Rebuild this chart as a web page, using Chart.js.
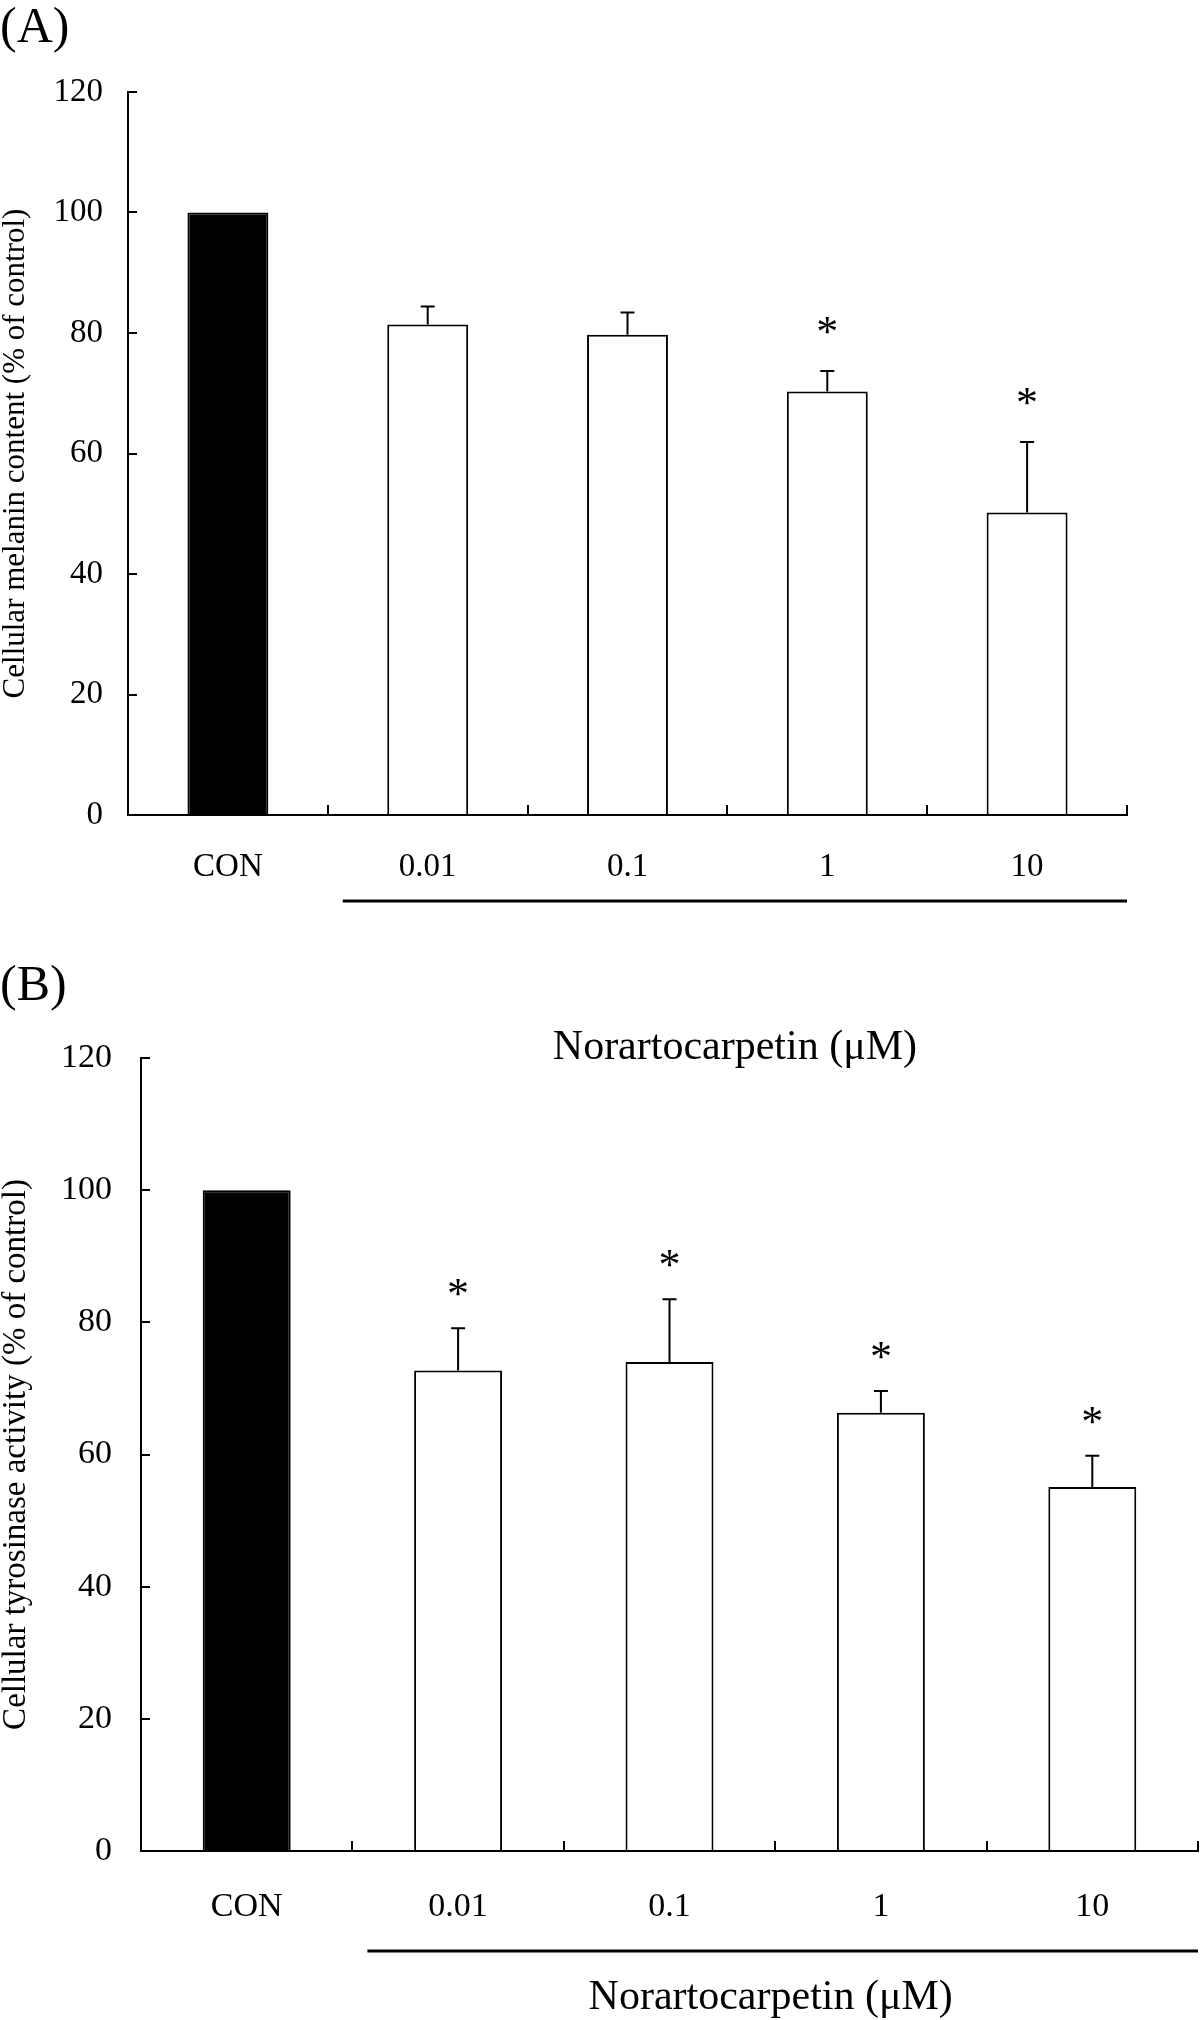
<!DOCTYPE html>
<html>
<head>
<meta charset="utf-8">
<script src="https://cdn.jsdelivr.net/npm/chart.js@4.4.1/dist/chart.umd.min.js"></script>
<style>
  html, body { margin: 0; padding: 0; background: #fff; }
  body { width: 1200px; height: 2020px; position: relative; overflow: hidden; font-family: "Liberation Serif", "Times New Roman", serif; }
  canvas { position: absolute; left: 0; }
  #chartA { top: 0; }
  #chartB { top: 960px; }
  .panel-tag { position: absolute; left: 0; font-size: 50px; line-height: 50px; color: #000; }
</style>
</head>
<body>
<div class="panel-tag" style="top:0">(A)</div>
<canvas id="chartA" width="1200" height="1080"></canvas>
<canvas id="chartB" width="1200" height="1060"></canvas>
<div class="panel-tag" style="top:958px">(B)</div>
<script>
const categories = ['CON', '0.01', '0.1', '1', '10'];
const yTickValues = [0, 20, 40, 60, 80, 100, 120];
const groupLabel = 'Norartocarpetin (μM)';

// (A) cellular melanin content, % of control
const melaninMean = [100, 81.4, 79.7, 70.3, 50.2];
const melaninSD = [0, 3.0, 3.7, 3.4, 11.7];
const melaninSig = [false, false, false, true, true];

// (B) cellular tyrosinase activity, % of control
const tyrosinaseMean = [100, 72.7, 74.0, 66.3, 55.1];
const tyrosinaseSD = [0, 6.4, 9.5, 3.3, 4.7];
const tyrosinaseSig = [false, true, true, true, true];

const barFill = ['#000', '#fff', '#fff', '#fff', '#fff'];
const serif = '"Liberation Serif", "Times New Roman", serif';

// error bars (upper only), asterisks and the group underline + label
const figExtras = {
    id: 'figExtras',
    afterDatasetsDraw(chart, args, opts) {
        const ctx = chart.ctx;
        const xs = chart.scales.x, ys = chart.scales.y;
        const vals = chart.data.datasets[0].data;
        const meta = chart.getDatasetMeta(0);
        ctx.save();
        ctx.strokeStyle = '#000';
        ctx.fillStyle = '#000';
        ctx.lineWidth = 2;
        meta.data.forEach((bar, i) => {
            const sd = opts.sd[i];
            const yCap = ys.getPixelForValue(vals[i] + sd);
            if (sd > 0) {
                ctx.beginPath();
                ctx.moveTo(bar.x, ys.getPixelForValue(vals[i]));
                ctx.lineTo(bar.x, yCap);
                ctx.moveTo(bar.x - opts.capWidth / 2, yCap);
                ctx.lineTo(bar.x + opts.capWidth / 2, yCap);
                ctx.stroke();
            }
            if (opts.sig[i]) {
                ctx.font = opts.starSize + 'px ' + serif;
                ctx.textAlign = 'center';
                ctx.textBaseline = 'alphabetic';
                ctx.fillText('*', bar.x, yCap - opts.starGap + opts.starSize * 0.47);
            }
        });

        const x1 = (xs.getPixelForValue(0) + xs.getPixelForValue(1)) / 2 + opts.lineInset;
        const x2 = chart.chartArea.right;
        const ly = chart.chartArea.bottom + opts.lineDrop;
        ctx.lineWidth = 3;
        ctx.beginPath();
        ctx.moveTo(x1, ly);
        ctx.lineTo(x2, ly);
        ctx.stroke();

        ctx.font = opts.labelSize + 'px ' + serif;
        ctx.textAlign = 'center';
        ctx.textBaseline = 'alphabetic';
        ctx.fillText(groupLabel, (x1 + x2) / 2 + opts.labelShift, chart.chartArea.bottom + opts.labelDrop);
        ctx.restore();
    }
};

function makeChart(id, p) {
    return new Chart(document.getElementById(id), {
        type: 'bar',
        data: {
            labels: categories,
            datasets: [{
                data: p.mean,
                backgroundColor: barFill,
                borderColor: '#000',
                borderWidth: 2,
                barPercentage: p.barPct,
                categoryPercentage: 1
            }]
        },
        options: {
            responsive: false,
            animation: false,
            layout: { padding: { top: p.padTop, right: p.padRight, bottom: 0, left: 0 } },
            plugins: {
                legend: { display: false },
                tooltip: { enabled: false },
                figExtras: {
                    sd: p.sd, sig: p.sig, capWidth: 14, starGap: p.starGap, starSize: 44,
                    lineInset: 15, lineDrop: p.lineDrop, labelDrop: p.labelDrop,
                    labelSize: 42, labelShift: p.labelShift
                }
            },
            scales: {
                x: {
                    afterFit: (axis) => { axis.height = p.xHeight; },
                    border: { display: true, color: '#000', width: 2 },
                    grid: { drawOnChartArea: false, color: '#000', lineWidth: 2, tickLength: -10, offset: true },
                    ticks: {
                        color: '#000', padding: p.xPad, autoSkip: false, maxRotation: 0,
                        font: { family: serif, size: p.tickSize }
                    }
                },
                y: {
                    min: 0, max: 120,
                    afterBuildTicks: (axis) => { axis.ticks = yTickValues.map(v => ({ value: v })); },
                    afterFit: (axis) => { axis.width = p.yWidth; },
                    border: { display: true, color: '#000', width: 2 },
                    grid: { drawOnChartArea: false, color: '#000', lineWidth: 2, tickLength: -9 },
                    ticks: {
                        color: '#000', padding: p.yPad,
                        font: { family: serif, size: p.tickSize }
                    },
                    title: {
                        display: true, text: p.yTitle, color: '#000', padding: 0,
                        font: { family: serif, size: p.titleSize, lineHeight: 1 }
                    }
                }
            }
        },
        plugins: [figExtras]
    });
}

makeChart('chartA', {
    mean: melaninMean, sd: melaninSD, sig: melaninSig,
    yTitle: 'Cellular melanin content (% of control)',
    barPct: 0.405, padTop: 92, padRight: 73, xHeight: 265, yWidth: 128,
    xPad: 43, yPad: 34, tickSize: 33, titleSize: 31,
    starGap: 46, lineDrop: 86, labelDrop: 244, labelShift: 0
});

makeChart('chartB', {
    mean: tyrosinaseMean, sd: tyrosinaseSD, sig: tyrosinaseSig,
    yTitle: 'Cellular tyrosinase activity (% of control)',
    barPct: 0.416, padTop: 98, padRight: 2, xHeight: 169, yWidth: 141,
    xPad: 46, yPad: 38, tickSize: 34, titleSize: 33,
    starGap: 41, lineDrop: 100, labelDrop: 158, labelShift: -12
});
</script>
</body>
</html>
